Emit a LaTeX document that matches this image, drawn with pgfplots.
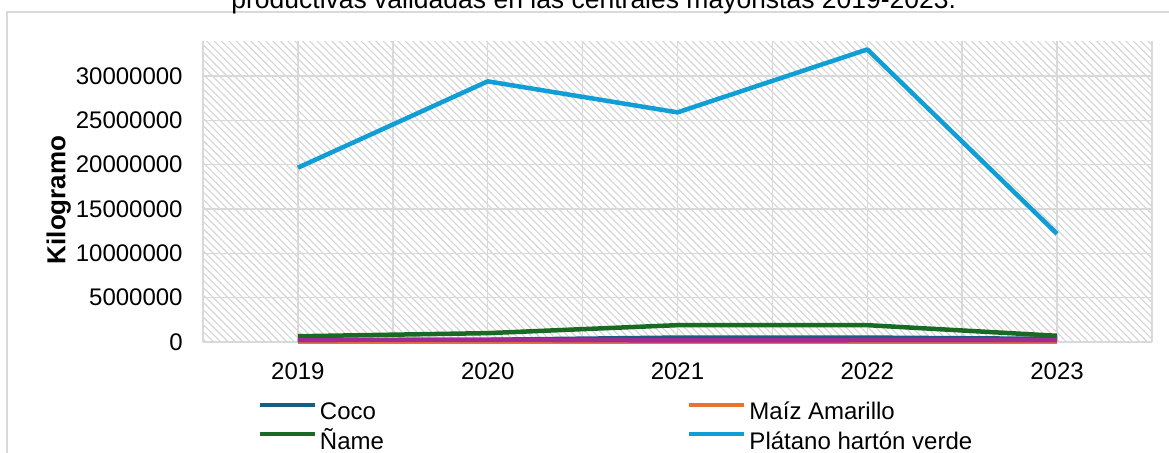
\documentclass[border=0pt]{standalone}
\usepackage{pgfplots}
\pgfplotsset{compat=1.18}
\usepackage{fontspec}
\setmainfont{Liberation Sans}
\usetikzlibrary{patterns.meta}
\definecolor{cCoco}{HTML}{156082}
\definecolor{cMaiz}{HTML}{E97132}
\definecolor{cName}{HTML}{196B24}
\definecolor{cPlat}{HTML}{0F9ED5}
\definecolor{cPurp}{HTML}{A02B93}
\definecolor{gridc}{HTML}{D9D9D9}
\definecolor{hatchc}{HTML}{D4D4D4}
\begin{document}
\begin{tikzpicture}
\useasboundingbox (0,0) rectangle (584.5pt,226pt);
\clip (0,0) rectangle (584.5pt,226pt);
% chart frame
\draw[gridc, line width=0.75pt] (3.5pt,-20pt) -- (3.5pt,220pt) -- (620pt,220pt);
% title (cut at top, as in the reference)
\node[anchor=base west, inner sep=0pt, font=\fontsize{13.25pt}{15pt}\selectfont] at (115.5pt,222pt)
  {productivas validadas en las centrales mayoristas 2019-2023.};
\begin{axis}[
  at={(101.5pt,55pt)}, anchor=south west,
  scale only axis, width=474.5pt, height=150.5pt,
  xmin=-0.5, xmax=4.5, ymin=0, ymax=33.95e6,
  clip=false,
  axis line style={draw=none},
  axis background/.style={pattern={Lines[angle=-45,distance=2.6pt,line width=0.55pt]}, pattern color=hatchc},
  xtick={0,1,2,3,4},
  xticklabels={2019,2020,2021,2022,2023},
  extra x ticks={-0.5,0.5,1.5,2.5,3.5,4.5},
  extra x tick labels={},
  extra x tick style={grid=major, major tick length=0pt},
  ytick={0,5e6,10e6,15e6,20e6,25e6,30e6},
  yticklabels={0,5000000,10000000,15000000,20000000,25000000,30000000},
  scaled y ticks=false,
  major tick length=0pt,
  grid=major,
  major grid style={gridc, line width=0.7pt},
  tick label style={font=\fontsize{12pt}{14pt}\selectfont},
  yticklabel style={inner sep=0pt, anchor=east, xshift=-10pt},
  xticklabel style={inner sep=0pt, anchor=north, yshift=-10pt},
  ylabel={\textbf{Kilogramo}},
  ylabel style={at={(axis description cs:-0.152,0.472)}, anchor=center, font=\fontsize{13pt}{15pt}\selectfont},
  legend columns=2,
  legend cell align=left,
  legend style={draw=none, fill=none, inner sep=0pt, column sep=1.5pt, row sep=2.15pt,
    at={(axis description cs:0.057,-0.1937)}, anchor=north west,
    font=\fontsize{12pt}{14pt}\selectfont,
    nodes={inner sep=0pt, text height=9.5pt, text depth=3pt}},
  legend image code/.code={\draw[#1, line width=2.25pt] (0pt,4.2pt) -- (27.5pt,4.2pt);},
  every axis plot/.append style={line width=2.25pt, line join=round, line cap=butt},
]
\addplot[cCoco] coordinates {(0,0.2e6) (1,0.25e6) (2,0.5e6) (3,0.5e6) (4,0.35e6)};
\addlegendentry{\makebox[182pt][l]{Coco}}
\addplot[cMaiz] coordinates {(0,0.02e6) (1,0.02e6) (2,0.02e6) (3,0.02e6) (4,0.02e6)};
\addlegendentry{Maíz Amarillo}
\addplot[cName] coordinates {(0,0.65e6) (1,1.0e6) (2,1.9e6) (3,1.9e6) (4,0.7e6)};
\addlegendentry{\makebox[182pt][l]{Ñame}}
\addplot[cPlat] coordinates {(0,19.66e6) (1,29.4e6) (2,25.9e6) (3,33.0e6) (4,12.2e6)};
\addlegendentry{Plátano hartón verde}
\addplot[cPurp, forget plot] coordinates {(0,0.22e6) (1,0.25e6) (2,0.18e6) (3,0.2e6) (4,0.2e6)};
\end{axis}
\end{tikzpicture}
\end{document}
